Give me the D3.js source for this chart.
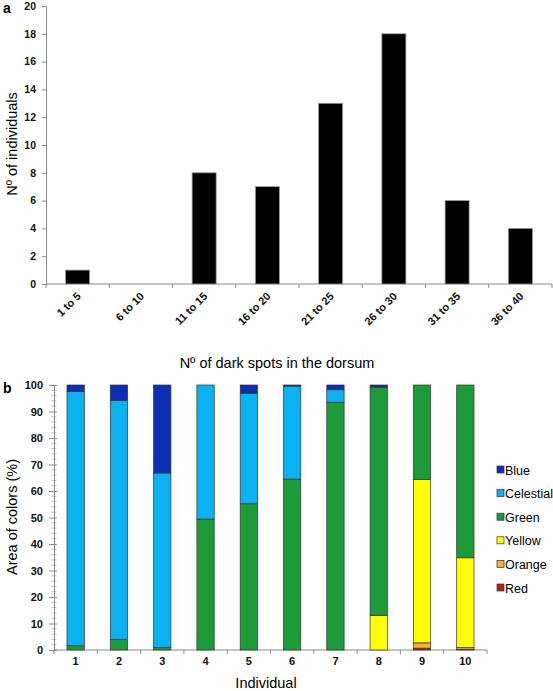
<!DOCTYPE html>
<html><head><meta charset="utf-8">
<script src="https://cdn.jsdelivr.net/npm/d3@7"></script>
<style>body{margin:0;background:#fff}svg{display:block;font-family:Arial,"Liberation Sans",sans-serif}</style>
</head><body><svg id="c" width="553" height="691"></svg>
<script>
// ---- Panel a data ----
const spotCategories = ["1 to 5","6 to 10","11 to 15","16 to 20","21 to 25","26 to 30","31 to 35","36 to 40"];
const spotCounts = [1,0,8,7,13,18,6,4];
const aTicks = [0,2,4,6,8,10,12,14,16,18,20];

// ---- Panel b data ----
const individuals = ["1","2","3","4","5","6","7","8","9","10"];
const colorNames = ["Red","Orange","Yellow","Green","Celestial","Blue"];
const red       = [0,0,0,0,0,0,0,0,0.7,0.3];
const orange    = [0,0,0,0,0,0,0,0,2.0,0.7];
const yellow    = [0,0,0,0,0,0,0,13.1,61.7,33.8];
const green     = [1.6,4.0,0.9,49.4,55.2,64.5,93.5,86.1,35.6,65.2];
const celestial = [95.9,90.1,65.9,50.6,41.7,35.1,4.7,0,0,0];
const blue      = [2.5,5.9,33.2,0,3.1,0.4,1.8,0.8,0,0];
const bTicks = [0,10,20,30,40,50,60,70,80,90,100];
const fills = {Blue:"#0c2fb4",Celestial:"#0ab2ef",Green:"#1c9b38",Yellow:"#ffff00",Orange:"#f2b233",Red:"#b3240f"};

const svg = d3.select("#c");
const axisCol = "#8a8a8a";

// ================= Panel a =================
{
  const x = d3.scaleBand().domain(spotCategories).range([46,552]).paddingInner(0.62).paddingOuter(0.31);
  const y = d3.scaleLinear().domain([0,20]).range([284,6]);
  const g = svg.append("g");
  const ya = g.append("g").attr("transform","translate(46,0)")
    .call(d3.axisLeft(y).tickValues(aTicks).tickSize(4).tickPadding(6));
  ya.select(".domain").attr("stroke",axisCol);
  ya.selectAll(".tick line").attr("stroke",axisCol);
  ya.selectAll(".tick text").attr("font-size",10.5).attr("font-weight","bold").attr("fill","#111");
  const xa = g.append("g");
  xa.append("line").attr("x1",46).attr("x2",552).attr("y1",y(0)).attr("y2",y(0)).attr("stroke",axisCol);
  d3.range(spotCategories.length+1).forEach(i=>{
    const tx = 46 + i*(506/spotCategories.length);
    xa.append("line").attr("x1",tx).attr("x2",tx).attr("y1",y(0)).attr("y2",y(0)+4).attr("stroke",axisCol);
  });
  g.selectAll("rect.bar").data(spotCounts).join("rect").attr("class","bar")
    .attr("x",(d,i)=>x(spotCategories[i])).attr("width",x.bandwidth())
    .attr("y",d=>y(d)).attr("height",d=>y(0)-y(d))
    .attr("fill","#000").attr("stroke","#999").attr("stroke-width",0.8);
  g.selectAll("text.xl").data(spotCategories).join("text").attr("class","xl")
    .attr("transform",d=>`translate(${x(d)+x.bandwidth()/2+4},${y(0)+13}) rotate(-45)`)
    .attr("text-anchor","end").attr("font-size",11).attr("font-weight","bold").attr("fill","#111").text(d=>d);
  g.append("text").attr("x",277).attr("y",368).attr("text-anchor","middle").attr("font-size",14.5).attr("fill","#000").text("Nº of dark spots in the dorsum");
  g.append("text").attr("transform","translate(17,144) rotate(-90)").attr("text-anchor","middle").attr("font-size",14.5).text("Nº of individuals");
  g.append("text").attr("x",3).attr("y",13).attr("font-size",14).attr("font-weight","bold").text("a");
}

// ================= Panel b =================
{
  const x = d3.scaleBand().domain(individuals).range([54,487]).paddingInner(0.6).paddingOuter(0.3);
  const y = d3.scaleLinear().domain([0,100]).range([650,385]);
  const g = svg.append("g");
  const minor = d3.range(0,101,2).filter(v=>v%10!==0);
  g.selectAll("line.minor").data(minor).join("line").attr("class","minor")
    .attr("x1",51.5).attr("x2",56.5).attr("y1",d=>y(d)).attr("y2",d=>y(d)).attr("stroke","#aaa").attr("stroke-width",0.8);
  const ya = g.append("g").attr("transform","translate(54,0)")
    .call(d3.axisLeft(y).tickValues(bTicks).tickSize(5).tickPadding(6));
  ya.select(".domain").attr("stroke",axisCol);
  ya.selectAll(".tick line").attr("stroke",axisCol).attr("x2",-5).attr("x1",3);
  ya.selectAll(".tick text").attr("font-size",11).attr("font-weight","bold").attr("fill","#111");
  g.append("line").attr("x1",54).attr("x2",487).attr("y1",y(0)).attr("y2",y(0)).attr("stroke",axisCol);
  d3.range(individuals.length+1).forEach(i=>{
    const tx = 54 + i*(433/individuals.length);
    g.append("line").attr("x1",tx).attr("x2",tx).attr("y1",y(0)).attr("y2",y(0)+4).attr("stroke",axisCol);
  });
  const rows = individuals.map((ind,i)=>({ind,Red:red[i],Orange:orange[i],Yellow:yellow[i],Green:green[i],Celestial:celestial[i],Blue:blue[i]}));
  const stack = d3.stack().keys(colorNames)(rows);
  stack.forEach(layer=>{
    g.selectAll(null).data(layer.filter(d=>d[1]-d[0]>0)).join("rect")
      .attr("x",d=>x(d.data.ind)).attr("width",x.bandwidth())
      .attr("y",d=>y(d[1])).attr("height",d=>y(d[0])-y(d[1]))
      .attr("fill",fills[layer.key]).attr("stroke","#333").attr("stroke-width",0.7);
  });
  g.selectAll("text.xl").data(individuals).join("text").attr("class","xl")
    .attr("x",d=>x(d)+x.bandwidth()/2).attr("y",665).attr("text-anchor","middle")
    .attr("font-size",11).attr("font-weight","bold").attr("fill","#111").text(d=>d);
  g.append("text").attr("x",266).attr("y",688).attr("text-anchor","middle").attr("font-size",14.5).text("Individual");
  g.append("text").attr("transform","translate(17,517) rotate(-90)").attr("text-anchor","middle").attr("font-size",14.5).text("Area of colors (%)");
  g.append("text").attr("x",3).attr("y",393).attr("font-size",14).attr("font-weight","bold").text("b");
  const legendOrder = ["Blue","Celestial","Green","Yellow","Orange","Red"];
  const lg = g.selectAll("g.leg").data(legendOrder).join("g").attr("class","leg")
    .attr("transform",(d,i)=>`translate(497,${470+i*23.6})`);
  lg.append("rect").attr("x",0).attr("y",-4).attr("width",7).attr("height",7).attr("fill",d=>fills[d]).attr("stroke","#333").attr("stroke-width",0.7);
  lg.append("text").attr("x",8).attr("y",4.5).attr("font-size",12.5).text(d=>d);
}
</script></body></html>
